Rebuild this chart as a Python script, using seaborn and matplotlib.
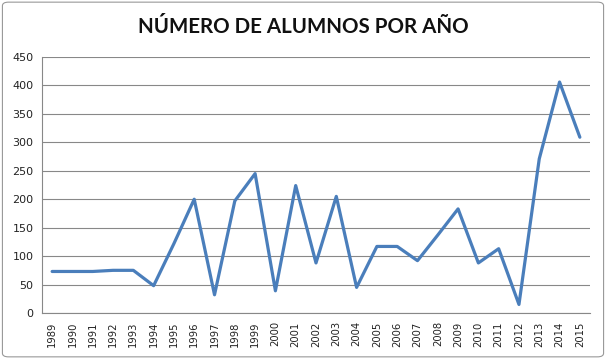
import matplotlib
matplotlib.use("Agg")
import matplotlib.pyplot as plt
import seaborn as sns
import pandas as pd
from matplotlib.patches import FancyBboxPatch

years = [str(y) for y in range(1989, 2016)]
alumnos = [73, 73, 73, 75, 75, 48, 122, 200, 32, 197, 245, 39, 224, 88, 205,
           45, 117, 117, 92, 137, 183, 88, 113, 15, 271, 406, 309]
yticks = [0, 50, 100, 150, 200, 250, 300, 350, 400, 450]
title = "NÚMERO DE ALUMNOS POR AÑO"

df = pd.DataFrame({"pos": range(len(years)), "year": years, "alumnos": alumnos})

sns.set_style("white")
plt.rcParams["font.family"] = ["DejaVu Sans"]

fig = plt.figure(figsize=(6.06, 3.59), dpi=100)
ax = fig.add_axes([42/606, 46/359, 548/606, 256/359])

sns.lineplot(data=df, x="pos", y="alumnos", ax=ax, color="#4A7EBB", linewidth=2.3)

ax.set_xlim(-0.5, len(years) - 0.5)
ax.set_ylim(0, 450)
ax.set_yticks(yticks)
ax.set_yticklabels([str(v) for v in yticks], fontsize=8, color="#222222")
ax.set_xticks(range(len(years)))
ax.set_xticklabels(years, rotation=90, fontsize=7.2, color="#222222")
ax.set_xticks([i - 0.5 for i in range(len(years) + 1)], minor=True)
ax.tick_params(axis="x", which="major", length=0, pad=6)
ax.tick_params(axis="x", which="minor", length=4, width=0.8, color="#888888", direction="out")
ax.tick_params(axis="y", length=4, width=0.8, color="#888888", direction="out", pad=2)
ax.yaxis.grid(True, color="#888888", linewidth=0.8)
ax.set_axisbelow(True)
ax.set_xlabel("")
ax.set_ylabel("")
for s in ["top", "right"]:
    ax.spines[s].set_visible(False)
for s in ["left", "bottom"]:
    ax.spines[s].set_color("#888888")
    ax.spines[s].set_linewidth(0.8)

fig.text(0.5, 1 - 27/359, title, ha="center", va="center", fontsize=14.8,
         fontweight="bold", family=["Lato", "DejaVu Sans"], color="#111111")

border = FancyBboxPatch((0.004, 0.006), 0.992, 0.988, boxstyle="round,pad=0,rounding_size=0.01",
                        transform=fig.transFigure, facecolor="none", edgecolor="#999999",
                        linewidth=0.8)
fig.patches.append(border)

fig.savefig("out.png", dpi=100)
